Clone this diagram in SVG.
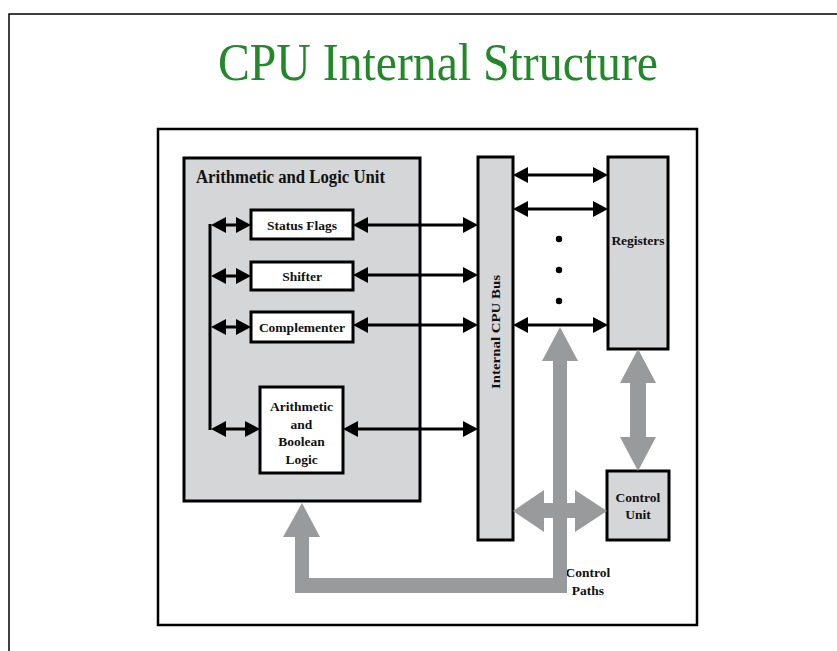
<svg xmlns="http://www.w3.org/2000/svg" width="837" height="651" viewBox="0 0 837 651">
<defs>
<style>
.box{stroke:#000;stroke-width:3}
.gray{fill:#d4d6d8}
.white{fill:#fff}
.lbl{font-family:"Liberation Serif","Times New Roman",serif;font-weight:bold;font-size:13.5px;fill:#111;text-anchor:middle}
.wire{stroke:#000;stroke-width:3;fill:none}
.arr{stroke:#000;stroke-width:3;fill:none;marker-start:url(#ah);marker-end:url(#ah)}
.thick{fill:#999a9b}
</style>
<marker id="ah" viewBox="0 0 15 16" refX="7" refY="8" markerWidth="15" markerHeight="16" markerUnits="userSpaceOnUse" orient="auto-start-reverse">
<path d="M0,0 L15,8 L0,16 z" fill="#000"/>
</marker>
</defs>
<rect x="0" y="0" width="837" height="651" fill="#fff"/>
<path d="M9,651 L9,14 L837,14" fill="none" stroke="#000" stroke-width="1.5"/>
<text x="218" y="80" font-family="'Liberation Serif','Times New Roman',serif" font-size="53" fill="#23882a" textLength="440" lengthAdjust="spacingAndGlyphs">CPU Internal Structure</text>
<rect x="158" y="129" width="539" height="496" fill="#fff" stroke="#000" stroke-width="2.5"/>

<g id="alu">
<rect class="box gray" x="184" y="158" width="236" height="343"/>
<text class="lbl" x="196" y="183" style="text-anchor:start;font-size:18.5px" textLength="189" lengthAdjust="spacingAndGlyphs">Arithmetic and Logic Unit</text>
</g>
<g id="status-flags">
<rect class="box white" x="251" y="210" width="102" height="29"/>
<text class="lbl" x="302" y="230">Status Flags</text>
</g>
<g id="shifter">
<rect class="box white" x="251" y="262" width="102" height="28"/>
<text class="lbl" x="302" y="281">Shifter</text>
</g>
<g id="complementer">
<rect class="box white" x="251" y="312" width="102" height="30"/>
<text class="lbl" x="302" y="332">Complementer</text>
</g>
<g id="arith-bool">
<rect class="box white" x="260" y="387" width="83" height="86"/>
<text class="lbl" x="301.5" y="411">Arithmetic</text>
<text class="lbl" x="301.5" y="428.5">and</text>
<text class="lbl" x="301.5" y="446">Boolean</text>
<text class="lbl" x="301.5" y="463.5">Logic</text>
</g>
<g id="bus">
<rect class="box gray" x="478" y="157" width="35" height="383"/>
<text class="lbl" transform="translate(500,332) rotate(-90)" x="0" y="0" textLength="114" lengthAdjust="spacingAndGlyphs">Internal CPU Bus</text>
</g>
<g id="registers">
<rect class="box gray" x="608" y="157" width="60" height="192"/>
<text class="lbl" x="638" y="245">Registers</text>
</g>
<g id="control-unit">
<rect class="box gray" x="607" y="471" width="62" height="69"/>
<text class="lbl" x="638" y="502">Control</text>
<text class="lbl" x="638" y="519">Unit</text>
</g>
<g id="control-paths-label">
<text class="lbl" x="588" y="577">Control</text>
<text class="lbl" x="588" y="595">Paths</text>
</g>

<g id="connectors">
<line class="wire" x1="210" y1="224" x2="210" y2="430"/>
<line class="arr" x1="219" y1="225" x2="243" y2="225"/>
<line class="arr" x1="219" y1="276" x2="243" y2="276"/>
<line class="arr" x1="219" y1="327" x2="243" y2="327"/>
<line class="arr" x1="219" y1="429" x2="252" y2="429"/>
<line class="arr" x1="361" y1="225" x2="470" y2="225"/>
<line class="arr" x1="361" y1="275" x2="470" y2="275"/>
<line class="arr" x1="361" y1="325" x2="470" y2="325"/>
<line class="arr" x1="351" y1="429" x2="470" y2="429"/>
<line class="arr" x1="521" y1="175" x2="600" y2="175"/>
<line class="arr" x1="521" y1="209" x2="600" y2="209"/>
<line class="arr" x1="521" y1="325" x2="600" y2="325"/>
<circle cx="559" cy="239" r="3.2" fill="#000"/>
<circle cx="559" cy="270" r="3.2" fill="#000"/>
<circle cx="559" cy="301" r="3.2" fill="#000"/>
<polygon class="thick" points="560,327 578,361 567,361 567,593 295,593 295,537 283,537 302,503 320,537 309,537 309,578 553,578 553,361 542,361"/>
<polygon class="thick" points="513,511 544,490 544,503 575,503 575,490 607,511 575,532 575,518 544,518 544,532"/>
<polygon class="thick" points="638,349 656,383 646,383 646,437 656,437 638,471 620,437 630,437 630,383 620,383"/>
</g>
</svg>
